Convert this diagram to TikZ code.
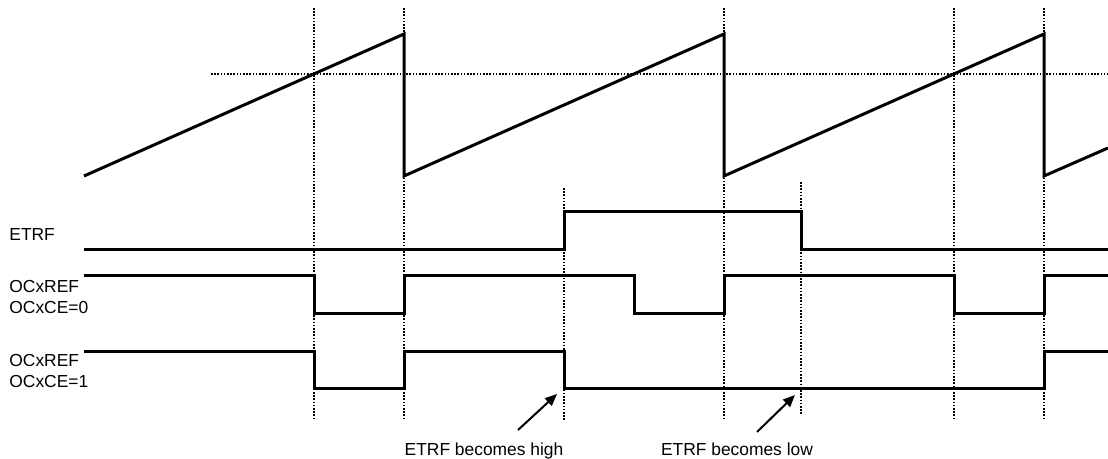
\documentclass[tikz,border=0pt]{standalone}
\usepackage{fontspec}
\setmainfont{Liberation Sans}
\usetikzlibrary{arrows.meta}

\begin{document}
\begin{tikzpicture}[x=0.5pt,y=-0.5pt,
  signal/.style={line width=1.5pt,line join=miter},
  guide/.style={line width=0.8pt,dash pattern=on 0.8pt off 0.8pt},
  siglabel/.style={anchor=base west,align=left,inner sep=0pt,
    font=\fontsize{8.7}{10.5}\selectfont},
  note/.style={anchor=base,inner sep=0pt,font=\fontsize{8.7}{10.5}\selectfont},
  pointer/.style={line width=1pt,-{Triangle[length=6pt,width=5pt]}}]
\useasboundingbox (0,0) rectangle (1108,459);

\draw[guide] (211,74) -- (1108,74);
\foreach \x in {314,404,724,954,1044}
  \draw[guide] (\x,8) -- (\x,418);
\draw[guide] (564,188) -- (564,420);
\draw[guide] (801,182) -- (801,414);

% counter
\draw[signal] (84,176) -- (404,34) -- (404,176) -- (724,34) -- (724,176)
  -- (1044,34) -- (1044,176) -- (1108,148);

\node[siglabel] (etrf) at (9,241) {ETRF};
\node[siglabel] (refzero) at (9,314) {OCxREF\\OCxCE=0};
\node[siglabel] (refone) at (9,388) {OCxREF\\OCxCE=1};

\draw[signal] (84,250) -- (564,250) -- (564,212) -- (801,212) -- (801,250) -- (1108,250);
\draw[signal] (84,276) -- (314,276) -- (314,314) -- (404,314) -- (404,276)
  -- (634,276) -- (634,314) -- (724,314) -- (724,276)
  -- (954,276) -- (954,314) -- (1044,314) -- (1044,276) -- (1108,276);
\draw[signal] (84,352) -- (314,352) -- (314,389) -- (404,389) -- (404,352)
  -- (564,352) -- (564,389) -- (1044,389) -- (1044,352) -- (1108,352);

\node[note] (high) at (484,455) {ETRF becomes high};
\node[note] (low) at (737,455) {ETRF becomes low};
\coordinate (hightail) at (518,430);
\coordinate (hightip) at (557,394);
\coordinate (lowtail) at (757,432);
\coordinate (lowtip) at (795,395);
\draw[pointer] (hightail) -- (hightip);
\draw[pointer] (lowtail) -- (lowtip);
\end{tikzpicture}
\end{document}
